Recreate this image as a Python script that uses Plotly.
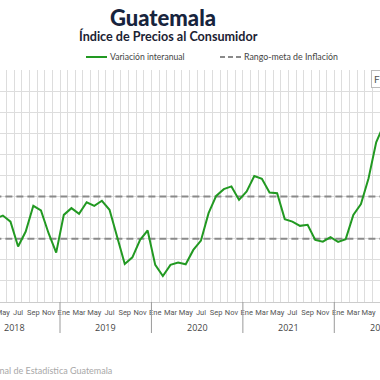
import plotly.graph_objects as go

# ---------------- data ----------------
years = ["2018", "2019", "2020", "2021", "2022"]
months = ["Ene", "Feb", "Mar", "Abr", "May", "Jun", "Jul", "Ago", "Sep", "Oct", "Nov", "Dic"]
inflation = [
    4.71, 4.14, 3.88, 3.95, 4.10, 3.81, 2.63, 3.34, 4.56, 4.34, 3.26, 2.34,   # 2018
    4.13, 4.45, 4.18, 4.73, 4.56, 4.80, 4.37, 3.10, 1.80, 2.12, 2.94, 3.39,   # 2019
    1.76, 1.23, 1.76, 1.87, 1.79, 2.47, 2.91, 4.21, 5.03, 5.35, 5.48, 4.84,   # 2020
    5.24, 5.97, 5.84, 5.19, 5.16, 3.93, 3.81, 3.61, 3.66, 2.94, 2.86, 3.07,   # 2021
    2.85, 2.98, 4.13, 4.64, 5.87, 7.57, 8.40,                                 # 2022
]
target_low = 3
target_high = 5
y_max = 11

# ---------------- layout helpers ----------------
W, H = 380, 380
M_T, M_B = 70, 78
plot_h = H - M_T - M_B
x_range = [3.625, 53.5]

n = len(inflation)
x_idx = list(range(n))
tick_vals = [i for i in x_idx if i % 2 == 0]
tick_text = [months[i % 12] for i in tick_vals]


def px_x(px):
    return px / W


def px_y(py):
    return (H - M_B - py) / plot_h


def data_to_paper(v):
    return (v - x_range[0]) / (x_range[1] - x_range[0])


fig = go.Figure()

# target band lines
fig.add_trace(go.Scatter(
    x=[0, n - 1, None, 0, n - 1],
    y=[target_high, target_high, None, target_low, target_low],
    mode="lines",
    name="Rango-meta de Inflación",
    line=dict(color="#8a8a8a", width=2, dash="7px,4px"),
    hoverinfo="skip",
    showlegend=False,
))

fig.add_trace(go.Scatter(
    x=x_idx,
    y=inflation,
    mode="lines",
    name="Variación interanual",
    line=dict(color="#229922", width=2),
    showlegend=False,
))

shapes = []
annotations = []

# year separators and labels
for k, yr in enumerate(years):
    if k > 0:
        shapes.append(dict(type="line", xref="x", yref="paper",
                           x0=12 * k - 0.5, x1=12 * k - 0.5,
                           y0=0, y1=-31 / plot_h,
                           line=dict(color="#9a9a9a", width=1)))
    annotations.append(dict(xref="paper", yref="paper",
                            x=data_to_paper(12 * k + 5.5), y=px_y(327),
                            text=yr, showarrow=False,
                            xanchor="center", yanchor="middle",
                            font=dict(family="Open Sans", size=9, color="#444444")))

# custom legend
shapes.append(dict(type="line", xref="paper", yref="paper",
                   x0=px_x(86), x1=px_x(107), y0=px_y(57), y1=px_y(57),
                   line=dict(color="#229922", width=2)))
annotations.append(dict(xref="paper", yref="paper", x=px_x(108), y=px_y(57),
                        text="Variación interanual", showarrow=False,
                        xanchor="left", yanchor="middle",
                        font=dict(family="Lato", size=8.6, color="#444444")))
shapes.append(dict(type="line", xref="paper", yref="paper",
                   x0=px_x(220), x1=px_x(241), y0=px_y(57), y1=px_y(57),
                   line=dict(color="#8a8a8a", width=2, dash="5px,3px")))
annotations.append(dict(xref="paper", yref="paper", x=px_x(242), y=px_y(57),
                        text="Rango-meta de Inflación", showarrow=False,
                        xanchor="left", yanchor="middle",
                        font=dict(family="Lato", size=8.8, color="#444444")))

# subtitle
annotations.append(dict(xref="paper", yref="paper", x=px_x(168), y=px_y(36),
                        text="<b>Índice de Precios al Consumidor</b>", showarrow=False,
                        xanchor="center", yanchor="middle",
                        font=dict(family="Lato", size=12.6, color="#1b2233")))

# source
annotations.append(dict(xref="paper", yref="paper", x=px_x(114), y=px_y(370),
                        text="Fuente: Instituto Nacional de Estadística Guatemala",
                        showarrow=False, xanchor="right", yanchor="middle",
                        font=dict(family="Lato", size=9, color="#a8a8a8")))

# button (partially visible)
annotations.append(dict(xref="paper", yref="paper", x=px_x(371), y=px_y(79),
                        text="F", showarrow=False, xanchor="left", yanchor="middle",
                        width=30, align="left", bordercolor="#bbbbbb", borderwidth=1,
                        borderpad=2, bgcolor="#ffffff",
                        font=dict(family="Lato", size=10, color="#555555")))

fig.update_layout(
    width=W, height=H,
    margin=dict(l=0, r=0, t=M_T, b=M_B, pad=0, autoexpand=False),
    paper_bgcolor="#ffffff", plot_bgcolor="#ffffff",
    title=dict(text="Guatemala", x=px_x(163), xanchor="center",
               y=1 - 18 / H, yanchor="middle",
               font=dict(family="Lato", size=22, color="#17243d", weight=900)),
    showlegend=False,
    shapes=shapes,
    annotations=annotations,
    xaxis=dict(range=x_range, tickmode="array", tickvals=tick_vals, ticktext=tick_text,
               automargin=False, ticklabeloverflow="allow", ticklabelstandoff=3,
               showgrid=False, zeroline=False, showline=True, linecolor="#cccccc",
               ticks="", ticklen=0, tickangle=0,
               tickfont=dict(family="Roboto", size=7.5, color="#555555"),
               minor=dict(tick0=0.5, dtick=1, showgrid=True, gridcolor="#dddddd",
                          gridwidth=1, ticks="")),
    yaxis=dict(range=[0, y_max], dtick=1, showgrid=True, gridcolor="#dddddd",
               automargin=False,
               gridwidth=1, zeroline=False, showticklabels=False, ticks=""),
)

fig.write_html("out.html", config={"displayModeBar": False},
               post_script="document.body.style.margin='0px';document.body.style.overflow='hidden';")
